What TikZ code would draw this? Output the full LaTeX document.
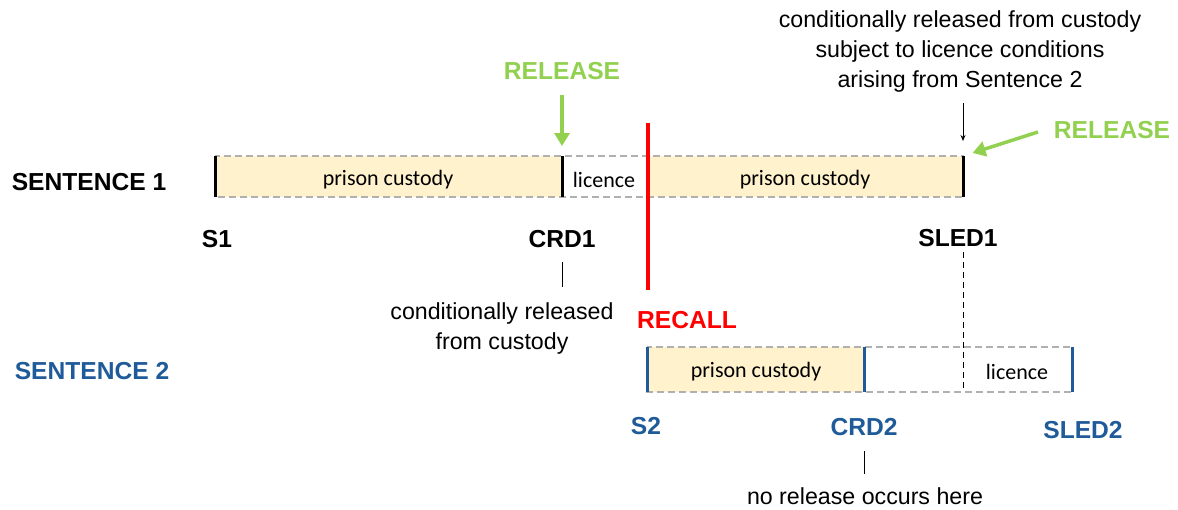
\documentclass[tikz,border=0pt]{standalone}
\usepackage{fontspec}
\setmainfont{Liberation Sans}
\newfontfamily\barfont{Carlito}
\usepackage{tikz}
\usetikzlibrary{arrows.meta}
\definecolor{custody}{HTML}{FFF2CC}
\definecolor{releasegreen}{HTML}{92D050}
\definecolor{sentblue}{HTML}{1F5A99}
\definecolor{bargray}{HTML}{B0B0B0}
\newcommand{\drawBar}[2]{\draw [bargray, line width=1.3pt, dash pattern=on 7pt off 4pt] #1 rectangle #2}
\newcommand{\drawCustody}[2]{\fill [custody] #1 rectangle #2}

\begin{document}
\begin{tikzpicture}[x=1pt, y=-1pt,
    bartext/.style={font=\barfont\fontsize{22}{24}\selectfont},
    datelbl/.style={font=\bfseries\fontsize{24.6}{28}\selectfont},
    note/.style={font=\fontsize{23.2}{30}\selectfont, align=center},
    datetick/.style={line width=3pt},
    relarrow/.style={releasegreen, line width=3.5pt, -{Triangle[width=15pt,length=13pt]}},
    ]
    \useasboundingbox (0,0) rectangle (1178,509);

    % for Sentence 1
    \drawCustody{(215,156)}{(562,197)};
    \drawCustody{(650,156)}{(963,197)};
    \drawBar{(215,156)}{(963,197)};
    \node [datelbl] (sent1) at (89,182) {SENTENCE 1};
    \node [bartext] (cust1) at (388,180) {prison custody};
    \node [bartext] (lic1) at (604,180) {licence};
    \node [bartext] (cust1b) at (805,180) {prison custody};

    \coordinate (s1top) at (215,156);
    \coordinate (s1bot) at (215,197);
    \coordinate (crd1top) at (562,156);
    \coordinate (crd1bot) at (562,197);
    \coordinate (sled1top) at (963,156);
    \coordinate (sled1bot) at (963,197);
    \draw [datetick] (s1top) -- (s1bot);
    \draw [datetick] (crd1top) -- (crd1bot);
    \draw [datetick] (sled1top) -- (sled1bot);

    \node [datelbl] (s1) at (217,239) {S1};
    \node [datelbl] (crd1) at (562,239) {CRD1};
    \node [datelbl] (sled1) at (958,238) {SLED1};

    \node [note] (crd1note) at (502,328) {conditionally released\\from custody};
    \coordinate (crd1marktop) at (562,262);
    \coordinate (crd1markbot) at (562,287);
    \draw [line width=1pt] (crd1marktop) -- (crd1markbot);

    % release at CRD1
    \node [datelbl, releasegreen] (rel1) at (562,71) {RELEASE};
    \draw [relarrow, shorten <=12pt, shorten >=10pt] (rel1) -- (crd1top);

    % recall
    \coordinate (recalltop) at (648,123);
    \coordinate (recallbot) at (648,290);
    \draw [red, line width=4.5pt] (recalltop) -- (recallbot);
    \node [datelbl, red] (recall) at (687,320) {RECALL};

    % for Sentence 2
    \drawCustody{(647,347)}{(864,392)};
    \drawBar{(647,347)}{(1072,392)};
    \node [datelbl, sentblue] (sent2) at (92,371) {SENTENCE 2};
    \node [bartext] (cust2) at (756,372) {prison custody};
    \node [bartext] (lic2) at (1017,372) {licence};

    \coordinate (s2top) at (647,347);
    \coordinate (s2bot) at (647,392);
    \coordinate (crd2top) at (864,347);
    \coordinate (crd2bot) at (864,392);
    \coordinate (sled2top) at (1072,347);
    \coordinate (sled2bot) at (1072,392);
    \draw [datetick, sentblue] (s2top) -- (s2bot);
    \draw [datetick, sentblue] (crd2top) -- (crd2bot);
    \draw [datetick, sentblue] (sled2top) -- (sled2bot);

    \node [datelbl, sentblue] (s2) at (646,426) {S2};
    \node [datelbl, sentblue] (crd2) at (864,427) {CRD2};
    \node [datelbl, sentblue] (sled2) at (1083,430) {SLED2};

    \node [note] (crd2note) at (865,496) {no release occurs here};
    \coordinate (crd2marktop) at (864,451);
    \coordinate (crd2markbot) at (864,474);
    \draw [line width=1pt] (crd2marktop) -- (crd2markbot);

    % SLED1 carried down to Sentence 2
    \coordinate (sledhigh) at (963,252);
    \coordinate (sledlow) at (963,391);
    \draw [line width=1pt, dash pattern=on 6pt off 4pt] (sledhigh) -- (sledlow);

    % release at SLED1
    \node [note] (sled1note) at (960,51) {conditionally released from custody\\subject to licence conditions\\arising from Sentence 2};
    \draw [line width=0.9pt, -{Stealth[length=6pt,width=5pt]}, shorten <=8pt, shorten >=15pt] (sled1note.south -| sled1top) -- (sled1top);

    \node [datelbl, releasegreen] (rel2) at (1112,130) {RELEASE};
    \coordinate (rel2tail) at (1038,132);
    \draw [relarrow, shorten >=10pt] (rel2tail) -- (sled1top);
\end{tikzpicture}
\end{document}
